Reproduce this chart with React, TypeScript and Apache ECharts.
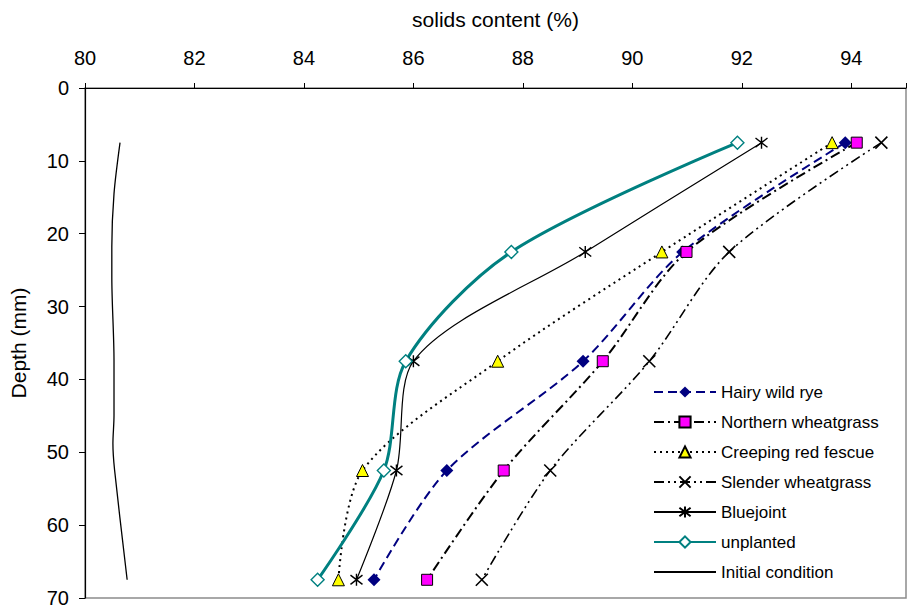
import React, { useEffect, useRef } from "react";
import * as echarts from "echarts";

const depths = [7.5, 22.5, 37.5, 52.5, 67.5];
const hairyWildRye = [93.89, 90.92, 89.1, 86.61, 85.28];
const northernWheatgrass = [94.1, 90.99, 89.46, 87.65, 86.25];
const creepingRedFescue = [93.65, 90.54, 87.54, 85.07, 84.63];
const slenderWheatgrass = [94.55, 91.77, 90.31, 88.5, 87.25];
const bluejoint = [92.36, 89.14, 86.0, 85.69, 84.96];
const unplanted = [91.92, 87.79, 85.86, 85.46, 84.25];
const initialDepths = [7.5, 14.5, 21.8, 26, 37.4, 45, 48.8, 52.4, 67.5];
const initialCondition = [80.64, 80.53, 80.49, 80.49, 80.53, 80.53, 80.51, 80.54, 80.77];

const seriesNames = [
  "Hairy wild rye",
  "Northern wheatgrass",
  "Creeping red fescue",
  "Slender wheatgrass",
  "Bluejoint",
  "unplanted",
  "Initial condition",
];

const FONT = "'Liberation Sans', Arial, sans-serif";

const pair = (xs: number[], ys: number[]) => xs.map((x, i) => [x, ys[i]]);

const CROSS = "path://M0,0L10,10M10,0L0,10";
const ASTER = "path://M0,0L10,10M10,0L0,10M5,-1.5L5,11.5";

export default function App() {
  const ref = useRef<HTMLDivElement>(null);
  useEffect(() => {
    if (!ref.current) return;
    const chart = echarts.init(ref.current, undefined, { renderer: "svg" });
    const smooth = 0.3;
    chart.setOption({
      animation: false,
      backgroundColor: "#fff",
      textStyle: { fontFamily: FONT },
      grid: {
        left: 82,
        top: 88,
        width: 836,
        height: 510,
        show: true,
        borderColor: "#8c8c8c",
        borderWidth: 1.5,
        backgroundColor: "transparent",
      },
      legend: {
        orient: "vertical",
        left: 653,
        top: 383,
        padding: 0,
        itemWidth: 62,
        itemHeight: 14,
        itemGap: 12,
        textStyle: { fontSize: 17, color: "#000", fontFamily: FONT, lineHeight: 18 },
        data: seriesNames.map((n, i) =>
          i === 6
            ? { name: n, itemStyle: { color: "transparent", borderWidth: 0, opacity: 0 } }
            : { name: n }
        ),
      },
      xAxis: {
        type: "value",
        position: "top",
        min: 80,
        max: 95,
        interval: 2,
        name: "solids content (%)",
        nameLocation: "middle",
        nameGap: 58,
        nameTextStyle: { fontSize: 21, color: "#000", fontFamily: FONT },
        axisLine: { show: true, lineStyle: { color: "#000", width: 1.2 } },
        axisTick: { show: true, inside: false, length: 5, lineStyle: { color: "#000" } },
        axisLabel: {
          fontSize: 20,
          color: "#000",
          margin: 20,
          fontFamily: FONT,
          formatter: (v: number) => (v === 95 ? "" : String(v)),
        },
        splitLine: { show: false },
      },
      yAxis: {
        type: "value",
        inverse: true,
        min: 0,
        max: 70,
        interval: 10,
        name: "Depth (mm)",
        nameLocation: "middle",
        nameGap: 56,
        nameRotate: 90,
        nameTextStyle: { fontSize: 21, color: "#000", fontFamily: FONT },
        axisLine: { show: true, lineStyle: { color: "#000", width: 1.2 } },
        axisTick: { show: true, inside: false, length: 6, lineStyle: { color: "#000" } },
        axisLabel: { fontSize: 20, color: "#000", margin: 16, fontFamily: FONT },
        splitLine: { show: false },
      },
      series: [
        {
          name: seriesNames[0],
          type: "line",
          smooth,
          data: pair(hairyWildRye, depths),
          symbol: "diamond",
          symbolSize: 13,
          lineStyle: { color: "#000080", width: 2, type: [9, 5] },
          itemStyle: { color: "#000080" },
          z: 3,
        },
        {
          name: seriesNames[1],
          type: "line",
          smooth,
          data: pair(northernWheatgrass, depths),
          symbol: "rect",
          symbolSize: 11,
          lineStyle: { color: "#000", width: 2, type: [10, 4, 2, 4] },
          itemStyle: { color: "#ff00ff", borderColor: "#000", borderWidth: 1 },
          z: 4,
        },
        {
          name: seriesNames[2],
          type: "line",
          smooth,
          data: pair(creepingRedFescue, depths),
          symbol: "triangle",
          symbolSize: 12,
          lineStyle: { color: "#000", width: 2, type: [2, 4] },
          itemStyle: { color: "#ffff00", borderColor: "#000", borderWidth: 1 },
          z: 3,
        },
        {
          name: seriesNames[3],
          type: "line",
          smooth,
          data: pair(slenderWheatgrass, depths),
          symbol: CROSS,
          symbolSize: 12,
          lineStyle: { color: "#000", width: 1.6, type: [10, 4, 2, 4, 2, 4] },
          itemStyle: { color: "none", borderColor: "#000", borderWidth: 1.6 },
          z: 3,
        },
        {
          name: seriesNames[4],
          type: "line",
          smooth,
          data: pair(bluejoint, depths),
          symbol: ASTER,
          symbolSize: 12,
          lineStyle: { color: "#000", width: 1.2, type: "solid" },
          itemStyle: { color: "none", borderColor: "#000", borderWidth: 1.4 },
          z: 3,
        },
        {
          name: seriesNames[5],
          type: "line",
          smooth,
          data: pair(unplanted, depths),
          symbol: "diamond",
          symbolSize: 13,
          lineStyle: { color: "#008080", width: 3, type: "solid" },
          itemStyle: { color: "#ffffff", borderColor: "#008080", borderWidth: 1.4 },
          z: 3,
        },
        {
          name: seriesNames[6],
          type: "line",
          smooth,
          data: pair(initialCondition, initialDepths),
          symbol: "circle",
          showSymbol: false,
          lineStyle: { color: "#000", width: 1.3, type: "solid" },
          itemStyle: { color: "transparent", borderWidth: 0 },
          z: 3,
        },
      ],
    });
    return () => chart.dispose();
  }, []);
  return (
    <div
      ref={ref}
      style={{ position: "fixed", left: 0, top: 0, width: 909, height: 610, background: "#fff" }}
    />
  );
}
